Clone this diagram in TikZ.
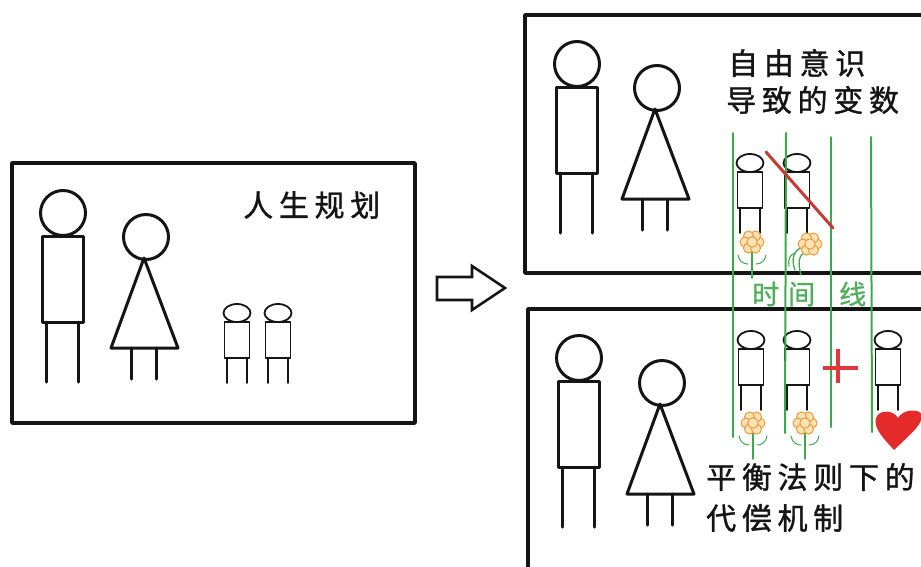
\documentclass[tikz,border=0pt]{standalone}
\usepackage{fontspec}
\newfontfamily\cjk[LetterSpace=19, FakeBold=1.2]{Noto Sans CJK SC}
\newfontfamily\cjkplain[FakeBold=1]{Noto Sans CJK SC}
\definecolor{ink}{HTML}{151515}
\definecolor{timegreen}{HTML}{3DA94C}
\definecolor{labelgreen}{HTML}{4FAE5A}
\definecolor{slashred}{HTML}{C63A33}
\definecolor{plusred}{HTML}{E0383A}
\definecolor{heartred}{HTML}{E42A2A}
\definecolor{petal}{HTML}{EC9A40}
\definecolor{petalfill}{HTML}{FCE2B4}
\tikzset{
  frame/.style={draw=ink, line width=3.5pt},
  adultline/.style={draw=ink, line width=3pt},
  kidline/.style={draw=ink, line width=1.8pt},
  timeline/.style={draw=timegreen, line width=2pt},
  caption/.style={inner sep=0pt, anchor=west, text=ink, font=\cjk\fontsize{30pt}{32pt}\selectfont},
  greenlabel/.style={inner sep=0pt, anchor=west, text=labelgreen, font=\cjkplain\fontsize{27pt}{29pt}\selectfont},
  % stick figures, placed by the centre of the head
  man/.pic={
    \draw[adultline] (0,0) circle [radius=22.5pt];
    \draw[adultline] (-21,23) rectangle (20,109);
    \draw[adultline] (-17,109) -- (-17,169) (15,109) -- (15,169);
  },
  woman/.pic={
    \draw[adultline] (0,0) circle [radius=22.5pt];
    \draw[adultline] (-2,21) -- (32,111) -- (-35,111) -- cycle;
    \draw[adultline] (-15,111) -- (-15,142) (10,111) -- (10,142);
  },
  kid/.pic={
    \draw[kidline] (0,0) ellipse [x radius=13.5pt, y radius=9pt];
    \draw[kidline] (-12.5,9) rectangle (12.5,45);
    \draw[kidline] (-10,45) -- (-10,70) (10,45) -- (10,70);
  },
  bloom/.pic={
    \foreach \a in {0,60,...,300}
      \draw[petal, fill=petalfill, line width=1pt] (\a:7pt) circle [radius=5pt];
    \draw[petal, fill=petalfill, line width=1pt] (0,0) circle [radius=5.2pt];
  },
  flower/.pic={
    \draw[timegreen, line width=1.8pt] (0,6) -- (0,36);
    \draw[timegreen, line width=1pt] (-14,13) .. controls (-13,19) and (-9,22) .. (-4,22);
    \draw[timegreen, line width=1pt] (14,13) .. controls (13,19) and (9,22) .. (4,22);
    \pic {bloom};
  }
}
\begin{document}
\begin{tikzpicture}[x=1pt, y=-1pt, line join=round, line cap=round]
\useasboundingbox (0,0) rectangle (921,566);
\clip (0,0) rectangle (921,566);

% ---- life plan panel ----
\draw[frame] (12,163) rectangle (415,423);
\pic at (63,213) {man};
\pic at (146,237) {woman};
\pic at (237,313) {kid};
\pic at (278,313) {kid};
\node[caption] (plan) at (243,205) {人生规划};

% ---- block arrow ----
\draw[draw=ink, line width=2.6pt, line cap=butt, line join=miter]
  (437,277) -- (472,277) -- (472,266) -- (505,288) -- (472,310) -- (472,300) -- (437,300) -- cycle;

% ---- free will panel ----
\draw[frame] (525,15) rectangle (960,273);
\pic at (577,64) {man};
\pic at (657,88) {woman};
\pic at (750,163) {kid};
\pic at (797,163) {kid};
\node[caption] (freewill1) at (728,63) {自由意识};
\node[caption] (freewill2) at (726,100) {导致的变数};
\pic at (752,242) {flower};
% wilted flower
\draw[timegreen, line width=1.3pt] (795,270) .. controls (791,260) and (793,250) .. (803,247);
\draw[timegreen, line width=1.3pt] (801,275) .. controls (798,264) and (798,256) .. (805,252);
\draw[timegreen, line width=1.1pt] (789,266) .. controls (788,258) and (790,255) .. (795,253);
\pic at (810,244) {bloom};

% ---- balance panel ----
\draw[frame] (528,309) rectangle (960,600);
\pic at (579,358) {man};
\pic at (662,383) {woman};
\pic at (751,340) {kid};
\pic at (797,340) {kid};
\pic at (888,340) {kid};
\pic at (753,423) {flower};
\pic at (805,423) {flower};
\node[caption] (balance1) at (706,477) {平衡法则下的};
\node[caption] (balance2) at (706,518) {代偿机制};

% heart
\fill[heartred] (894,450) .. controls (884,439) and (873,428) .. (876,418)
  .. controls (879,409) and (894,410) .. (898,418)
  .. controls (903,409) and (919,408) .. (922,415)
  .. controls (923,425) and (906,438) .. (894,450) -- cycle;

% ---- time lines ----
\coordinate (t1a) at (733,133); \coordinate (t1b) at (733,437);
\coordinate (t2a) at (786,133); \coordinate (t2b) at (785,433);
\coordinate (t3a) at (831,137); \coordinate (t3b) at (831,427);
\coordinate (t4a) at (871,137); \coordinate (t4b) at (872,432);
\draw[timeline] (t1a) -- (t1b);
\draw[timeline] (t2a) -- (t2b);
\draw[timeline] (t3a) -- (t3b);
\draw[timeline] (t4a) -- (t4b);
\node[greenlabel] (timelabel) at (752,294) {时\hspace{9pt}间\hspace{24pt}线};

% crossing out and adding
\draw[slashred, line width=3pt] (766,152) -- (833,228);
\draw[plusred, line width=3.2pt, line cap=butt] (823,368) -- (858,368) (838,349) -- (838,383);
\end{tikzpicture}
\end{document}
